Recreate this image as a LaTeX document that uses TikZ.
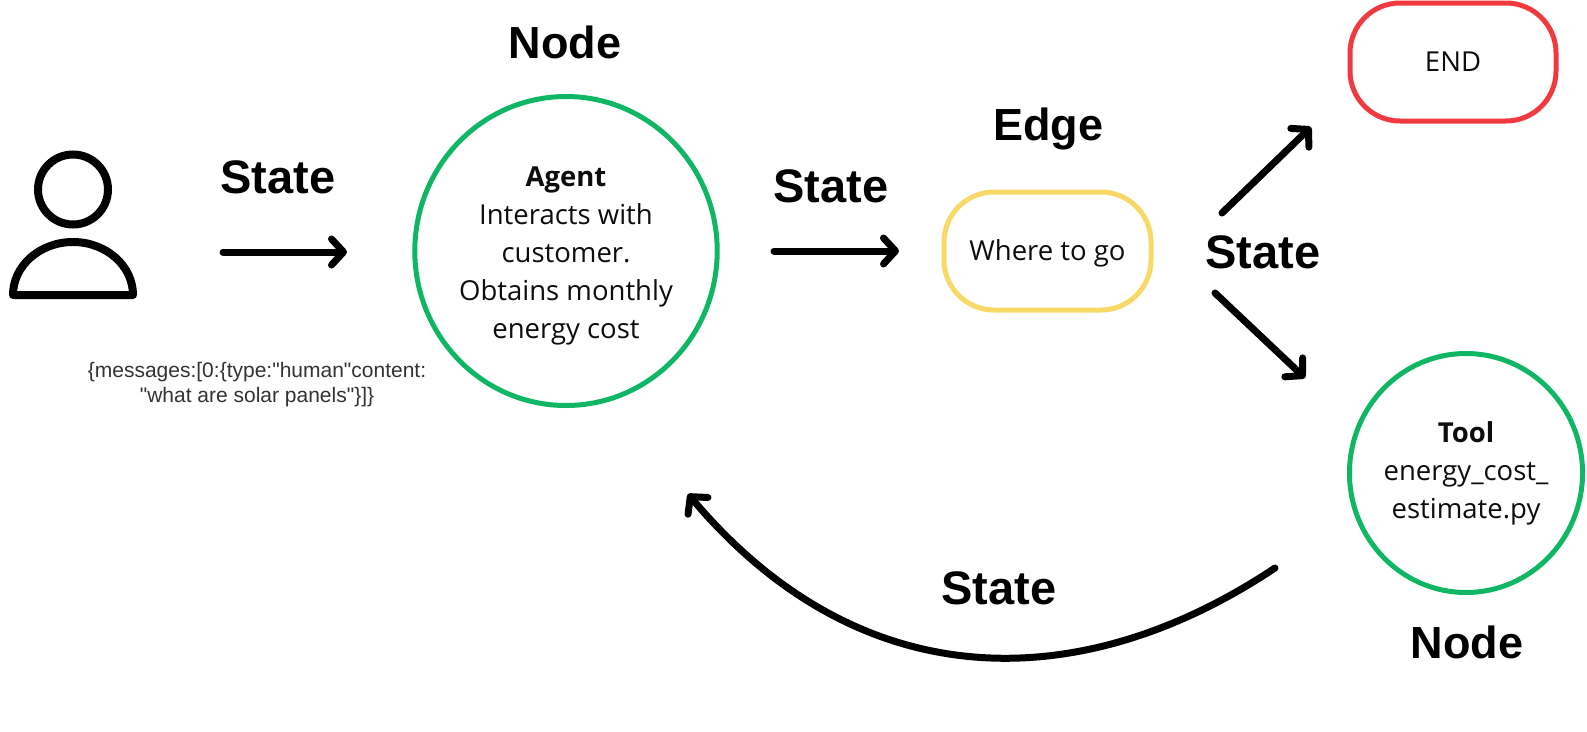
\documentclass[tikz,border=0pt]{standalone}
\usepackage{fontspec}
\setmainfont{Open Sans}
\newfontfamily\headfont{Liberation Sans}
\newfontfamily\smallfont{Liberation Sans}
\usetikzlibrary{arrows.meta,shapes.geometric}
\definecolor{nodegreen}{HTML}{0FB765}
\definecolor{edgeyellow}{HTML}{F8D866}
\definecolor{endred}{HTML}{F03A3F}
\tikzset{
  x=1pt,y=-1pt,
  heading/.style={font=\headfont\bfseries\fontsize{45}{50}\selectfont,inner sep=0pt,anchor=base,text=black},
  statelabel/.style={font=\headfont\bfseries\fontsize{47}{50}\selectfont,inner sep=0pt,anchor=base,text=black},
  body/.style={font=\fontsize{27.5}{38}\selectfont,align=center,text=black!95},
  greencirc/.style={ellipse,draw=nodegreen,line width=5pt,inner sep=0pt},
  pill/.style={rectangle,rounded corners=50pt,line width=5pt,inner sep=0pt},
  flow/.style={line width=7pt,line cap=round,-{Straight Barb[length=12pt,width=26pt,round]}},
  person/.style={line width=8pt,line join=round},
}
\begin{document}
\begin{tikzpicture}
\useasboundingbox (0,0) rectangle (1587,731);
% user icon
\node[circle,draw=black,line width=8pt,minimum size=70pt,inner sep=0pt] (head) at (73,189.5) {};
\draw[person] (13,295) arc[start angle=180,end angle=0,x radius=60,y radius=-53] -- cycle;
% small text
\node[font=\smallfont\fontsize{21}{25}\selectfont,align=center,text=black!80,inner sep=0pt] (msg) at (257,385)
  {\{messages:[0:\{type:\symbol{34}human\symbol{34}content:\\\symbol{34}what are solar panels\symbol{34}\}]\}};
% nodes
\node[greencirc,minimum width=301pt,minimum height=309pt,body] (agent) at (566,251)
  {\rule{0pt}{30pt}\textbf{Agent}\\Interacts with\\customer.\\Obtains monthly\\energy cost};
\node[pill,draw=edgeyellow,minimum width=207pt,minimum height=118pt,body] (edge) at (1047.5,251) {\rule{0pt}{26pt}Where to go};
\node[pill,draw=endred,minimum width=206pt,minimum height=118pt,body] (end) at (1453,62) {END};
\node[greencirc,minimum width=232pt,minimum height=239pt,body] (tool) at (1466,473)
  {\textbf{Tool}\\energy\_cost\_\\estimate.py};
% headings
\node[heading] (h1) at (565,58) {Node};
\node[heading] (h2) at (1048,140) {Edge};
\node[heading] (h3) at (1467,658) {Node};
\node[statelabel] (s1) at (278,193) {State};
\node[statelabel] (s2) at (831,202) {State};
\node[statelabel] (s3) at (1263,268) {State};
\node[statelabel] (s4) at (999,604) {State};
% connectors
\coordinate (a1s) at (223,252); \coordinate (a1e) at (347,252);
\coordinate (a2s) at (774,251); \coordinate (a2e) at (899,251);
\coordinate (a3s) at (1222,213); \coordinate (a3e) at (1311,127);
\coordinate (a4s) at (1215,293); \coordinate (a4e) at (1305,378);
\coordinate (a5s) at (1275,568); \coordinate (a5e) at (688,494);
\draw[flow] (a1s) -- (a1e);
\draw[flow] (a2s) -- (a2e);
\draw[flow] (a3s) -- (a3e);
\draw[flow] (a4s) -- (a4e);
\draw[flow] (a5s) .. controls (1080,698) and (860,698) .. (a5e);
\end{tikzpicture}
\end{document}
